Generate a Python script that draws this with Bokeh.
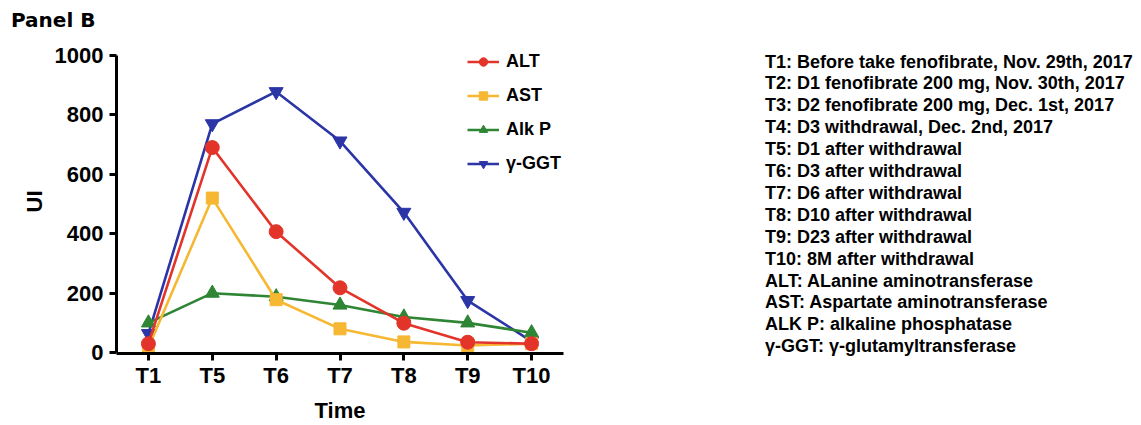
from bokeh.plotting import figure
from bokeh.models import FactorRange, Range1d, Legend, LegendItem, ColumnDataSource, Div
from bokeh.layouts import row, column
from bokeh.embed import file_html
from bokeh.resources import INLINE

# ---- data ----
times = ["T1", "T5", "T6", "T7", "T8", "T9", "T10"]
alt = [30, 690, 407, 218, 99, 35, 30]
ast = [17, 520, 178, 80, 36, 24, 30]
alkp = [100, 200, 188, 160, 120, 100, 67]
ggt = [64, 770, 878, 712, 472, 175, 38]
series_names = ["ALT", "AST", "Alk P", "γ-GGT"]
y_ticks = [0, 200, 400, 600, 800, 1000]
panel_title = "Panel B"
notes = [
    "T1: Before take fenofibrate, Nov. 29th, 2017",
    "T2: D1 fenofibrate 200 mg, Nov. 30th, 2017",
    "T3: D2 fenofibrate 200 mg, Dec. 1st, 2017",
    "T4: D3 withdrawal, Dec. 2nd, 2017",
    "T5: D1 after withdrawal",
    "T6: D3 after withdrawal",
    "T7: D6 after withdrawal",
    "T8: D10 after withdrawal",
    "T9: D23 after withdrawal",
    "T10: 8M after withdrawal",
    "ALT: ALanine aminotransferase",
    "AST: Aspartate aminotransferase",
    "ALK P: alkaline phosphatase",
    "γ-GGT: γ-glutamyltransferase",
]

FONT = "Liberation Sans"
colors = {"ALT": "#E3342A", "AST": "#F6B733", "Alk P": "#2E8534", "γ-GGT": "#2B35A6"}
markers = {"ALT": "circle", "AST": "square", "Alk P": "triangle", "γ-GGT": "inverted_triangle"}
msize = {"ALT": 14, "AST": 12, "Alk P": 14, "γ-GGT": 14}
vals = {"ALT": alt, "AST": ast, "Alk P": alkp, "γ-GGT": ggt}

TITLE_H = 40

title_div = Div(text=panel_title, width=1141, height=TITLE_H, margin=0,
                styles={"font-family": "DejaVu Sans", "font-weight": "bold",
                        "font-size": "20px", "line-height": "24px", "color": "black",
                        "padding-top": "8px", "padding-left": "11px",
                        "box-sizing": "border-box", "white-space": "nowrap"})

p = figure(width=600, height=425 - TITLE_H, title=None,
           x_range=FactorRange(*times, range_padding=0),
           y_range=Range1d(-3, 1020),
           output_backend="svg", toolbar_location=None,
           min_border_left=116, min_border_right=37,
           min_border_top=49 - TITLE_H, min_border_bottom=72)
p.outline_line_color = None
p.xgrid.visible = False
p.ygrid.visible = False

for ax in (p.xaxis, p.yaxis):
    ax.axis_line_width = 3
    ax.major_tick_line_width = 3
    ax.major_tick_out = 7
    ax.major_tick_in = 0
    ax.minor_tick_line_color = None
    ax.major_label_text_font = FONT
    ax.major_label_text_font_size = "22px"
    ax.major_label_text_font_style = "bold"
    ax.major_label_text_color = "black"
    ax.axis_label_text_font = FONT
    ax.axis_label_text_font_size = "22px"
    ax.axis_label_text_font_style = "bold"
    ax.axis_label_text_color = "black"
    ax.axis_line_color = "black"
    ax.major_tick_line_color = "black"

p.xaxis.axis_label = "Time"
p.yaxis.axis_label = "UI"
p.yaxis.ticker = y_ticks
p.yaxis.bounds = (0, 1000)
p.xaxis.major_label_standoff = 2
p.yaxis.major_label_standoff = 6
p.xaxis.axis_label_standoff = 7
p.yaxis.axis_label_standoff = 5

items = {}
for name in ["γ-GGT", "Alk P", "AST", "ALT"]:
    src = ColumnDataSource(dict(x=times, y=vals[name]))
    l = p.line("x", "y", source=src, line_color=colors[name], line_width=2.6)
    s = p.scatter("x", "y", source=src, marker=markers[name], size=msize[name],
                  fill_color=colors[name], line_color=colors[name])
    items[name] = LegendItem(label=name, renderers=[l, s])

legend = Legend(items=[items[n] for n in series_names], location=(351, 179))
legend.border_line_color = None
legend.background_fill_alpha = 0
legend.padding = 0
legend.margin = 0
legend.glyph_width = 32
legend.glyph_height = 21
legend.label_height = 21
legend.label_standoff = 7
legend.spacing = 13
legend.label_text_font = FONT
legend.label_text_font_size = "18px"
legend.label_text_font_style = "bold"
legend.label_text_color = "black"
p.add_layout(legend)

# ---- notes panel ----
notes_html = "<br>".join(n for n in notes)
div = Div(text=notes_html, width=541, height=425 - TITLE_H, margin=0,
          styles={"font-family": FONT, "font-weight": "bold", "font-size": "18px",
                  "line-height": "21.9px", "color": "black", "white-space": "nowrap",
                  "padding-top": f"{51.5 - TITLE_H}px", "padding-left": "165px",
                  "overflow": "hidden", "box-sizing": "border-box"})

layout = column(title_div, row(p, div))
open("out.html", "w").write(file_html(layout, INLINE))
